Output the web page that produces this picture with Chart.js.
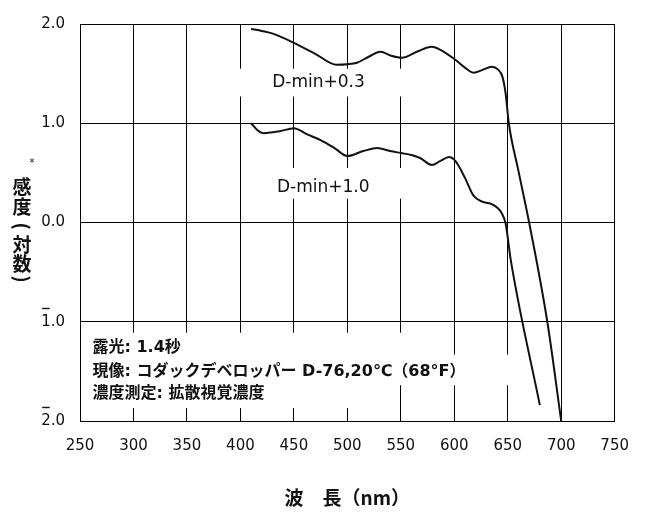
<!DOCTYPE html>
<html>
<head>
<meta charset="utf-8">
<script src="https://cdn.jsdelivr.net/npm/chart.js@4.4.1/dist/chart.umd.min.js"></script>
<style>
  html, body { margin: 0; padding: 0; background: #fff; }
</style>
</head>
<body>
<canvas id="chart" width="645" height="512"></canvas>
<script>
// D-min+0.3 curve
const upperNm = [410, 420, 431, 450, 470, 490, 500, 509, 520, 531, 541, 551, 565, 579, 587, 601, 610, 618, 627, 635, 641, 645, 648, 651, 660, 670, 687, 700];
const upperLog = [1.95, 1.93, 1.90, 1.81, 1.70, 1.59, 1.595, 1.61, 1.67, 1.72, 1.68, 1.66, 1.72, 1.77, 1.74, 1.64, 1.56, 1.51, 1.54, 1.57, 1.54, 1.47, 1.30, 1.00, 0.52, 0.00, -1.00, -2.00];

// D-min+1.0 curve
const lowerNm = [410, 416, 422, 430, 437, 450, 462, 475, 488, 500, 515, 528, 540, 550, 560, 568, 579, 587, 595, 601, 610, 618, 626, 634, 640, 644, 648, 653, 680];
const lowerLog = [1.00, 0.93, 0.90, 0.91, 0.92, 0.95, 0.89, 0.83, 0.75, 0.67, 0.72, 0.75, 0.72, 0.70, 0.68, 0.65, 0.58, 0.62, 0.66, 0.62, 0.45, 0.27, 0.21, 0.19, 0.15, 0.10, -0.01, -0.39, -1.84];

const seriesNames = ["D-min+0.3", "D-min+1.0"];
const notes = ["露光: 1.4秒", "現像: コダックデベロッパー D-76,20℃（68°F）", "濃度測定: 拡散視覚濃度"];
const xTitle = "波　長（nm）";
const yTitle = ["感", "度", "(", "対", "数", ")"];

const LATIN = '"DejaVu Sans", "Noto Sans CJK JP", sans-serif';
const INK = "#111";

function pts(xs, ys) {
  return xs.map((v, i) => ({ x: v, y: ys[i] }));
}

// white patches behind the texts, in data units [x0, x1, yTop, yBottom]
const patches = [
  [395, 554, 1.55, 1.27],
  [410, 554, 0.55, 0.24],
  [250, 530, -1.11, -1.87],
  [530, 568, -1.11, -1.64],
  [568, 657, -1.33, -1.64]
];

const decor = {
  id: "decor",
  beforeDatasetsDraw(chart) {
    const { ctx, chartArea: a, scales: { x, y } } = chart;
    ctx.save();
    ctx.fillStyle = "#fff";
    patches.forEach(p => {
      const l = Math.max(x.getPixelForValue(p[0]), a.left + 1.5);
      const r = Math.min(x.getPixelForValue(p[1]), a.right - 1.5);
      const t = y.getPixelForValue(p[2]);
      const b = y.getPixelForValue(p[3]);
      ctx.fillRect(l, t, r - l, b - t);
    });

    ctx.fillStyle = INK;
    ctx.font = "17px " + LATIN;
    ctx.textAlign = "center";
    ctx.textBaseline = "middle";
    ctx.fillText(seriesNames[0], x.getPixelForValue(473), y.getPixelForValue(1.405));
    ctx.fillText(seriesNames[1], x.getPixelForValue(477.5), y.getPixelForValue(0.347));

    ctx.textAlign = "left";
    ctx.font = "bold 16px " + LATIN;
    const noteY = [-1.267, -1.505, -1.723];
    notes.forEach((s, i) => ctx.fillText(s, x.getPixelForValue(261.7), y.getPixelForValue(noteY[i])));
    ctx.restore();
  },
  afterDraw(chart) {
    const { ctx, chartArea: a, scales: { y } } = chart;
    ctx.save();
    ctx.fillStyle = INK;
    ctx.strokeStyle = INK;

    // bars over negative characteristics (1̄.0, 2̄.0)
    ctx.font = "15px " + LATIN;
    const xr = y.right - 15;
    y.ticks.forEach(t => {
      if (t.value >= 0) return;
      const s = Math.abs(t.value).toFixed(1);
      const w = ctx.measureText(s).width;
      const w1 = ctx.measureText(s[0]).width;
      const py = Math.round(y.getPixelForValue(t.value) - 14) + 0.5;
      ctx.lineWidth = 1.4;
      ctx.beginPath();
      ctx.moveTo(xr - w + 1, py);
      ctx.lineTo(xr - w + w1 - 1, py);
      ctx.stroke();
    });

    // x title
    ctx.textAlign = "center";
    ctx.textBaseline = "middle";
    ctx.font = 'bold 19px "Noto Sans CJK JP", sans-serif';
    ctx.fillText(xTitle, (a.left + a.right) / 2, 498);

    // y title, stacked vertically; brackets turned a quarter
    const cy = [187, 206.5, 226, 245, 264, 279];
    yTitle.forEach((c, i) => {
      if (c === "(" || c === ")") {
        ctx.save();
        ctx.translate(22, cy[i]);
        ctx.rotate(Math.PI / 2);
        ctx.fillText(c, 0, 0);
        ctx.restore();
      } else {
        ctx.fillText(c, 22, cy[i]);
      }
    });
    ctx.font = "10px " + LATIN;
    ctx.fillText("*", 32, 163);
    ctx.restore();
  }
};

new Chart(document.getElementById("chart"), {
  type: "line",
  data: {
    datasets: [
      { label: seriesNames[0], data: pts(upperNm, upperLog) },
      { label: seriesNames[1], data: pts(lowerNm, lowerLog) }
    ]
  },
  options: {
    responsive: false,
    animation: false,
    layout: { padding: { left: 0, right: 30, top: 17, bottom: 0 } },
    elements: {
      line: { borderColor: INK, borderWidth: 2, cubicInterpolationMode: "monotone", fill: false },
      point: { radius: 0 }
    },
    plugins: {
      legend: { display: false },
      tooltip: { enabled: false }
    },
    scales: {
      x: {
        type: "linear",
        min: 250,
        max: 750,
        afterFit: s => { s.height = 91; },
        grid: { color: "#000", lineWidth: 1, drawTicks: false },
        border: { color: "#000", width: 1 },
        ticks: { stepSize: 50, padding: 16, color: INK, font: { family: LATIN, size: 15 } }
      },
      y: {
        min: -2,
        max: 2,
        afterFit: s => { s.width = 80; },
        grid: { color: "#000", lineWidth: 1, drawTicks: false },
        border: { color: "#000", width: 1 },
        ticks: {
          stepSize: 1,
          padding: 15,
          color: INK,
          font: { family: LATIN, size: 15 },
          callback: v => Math.abs(v).toFixed(1)
        }
      }
    }
  },
  plugins: [decor]
});
</script>
</body>
</html>
